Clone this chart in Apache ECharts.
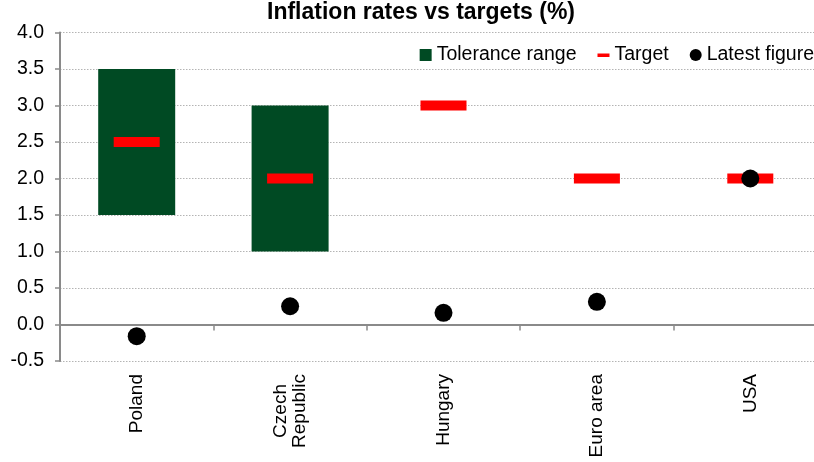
<!DOCTYPE html>
<html>
<head>
<meta charset="utf-8">
<script src="https://cdn.jsdelivr.net/npm/echarts@6/dist/echarts.min.js"></script>
<style>
  html, body { margin: 0; padding: 0; background: #ffffff; }
  #chart { width: 814px; height: 462px; }
</style>
</head>
<body>
<div id="chart"></div>
<script>
// Categories and values (%)
var categories = ['Poland', 'Czech\nRepublic', 'Hungary', 'Euro area', 'USA'];
var toleranceLow = [1.5, 1.0, null, null, null];
var toleranceHigh = [3.5, 3.0, null, null, null];
var targets = [2.5, 2.0, 3.0, 2.0, 2.0];
var latest = [-0.16, 0.25, 0.16, 0.31, 2.0];
var yTicks = { min: -0.5, max: 4.0, step: 0.5 };

var FONT = "'Liberation Sans', Arial, sans-serif";
var GREEN = '#004a23';

// Stacked bars: an invisible base up to the lower bound, then the band itself
var baseData = toleranceLow.map(function (v) { return v == null ? '-' : v; });
var bandData = toleranceHigh.map(function (v, i) {
  return v == null ? '-' : +(v - toleranceLow[i]).toFixed(4);
});

var chart = echarts.init(document.getElementById('chart'), null, { renderer: 'canvas' });

chart.setOption({
  animation: false,
  backgroundColor: '#ffffff',
  title: {
    text: 'Inflation rates vs targets (%)',
    left: 267,
    top: 1,
    padding: 0,
    textStyle: { fontFamily: FONT, fontSize: 23, fontWeight: 'bold', color: '#000' }
  },
  legend: {
    right: 0,
    top: 45,
    padding: 0,
    itemGap: 21,
    itemWidth: 12,
    itemHeight: 12,
    textStyle: { fontFamily: FONT, fontSize: 19.5, color: '#000' },
    data: [
      { name: 'Tolerance range', icon: 'rect' },
      { name: 'Target', icon: 'path://M0,0M12,12M0,4.5h12v3.5h-12z' },
      { name: 'Latest figure', icon: 'circle' }
    ]
  },
  // plot area runs slightly past the right edge of the canvas
  grid: {
    left: 60, top: 32.5, width: 767, bottom: 101,
    containLabel: false, outerBoundsMode: 'none'
  },
  xAxis: [
    {
      type: 'category',
      data: categories,
      position: 'bottom',
      axisLine: { show: false, onZero: false },
      axisTick: { show: false },
      axisLabel: {
        rotate: 90,
        margin: 13,
        interval: 0,
        fontFamily: FONT,
        fontSize: 19,
        color: '#000',
        lineHeight: 19,
        formatter: function (v) {
          return v.split('\n').map(function (s) { return '{c|' + s + '}'; }).join('\n');
        },
        rich: { c: { align: 'center', fontFamily: FONT, fontSize: 19, color: '#000', lineHeight: 19 } }
      }
    },
    {
      // zero line with category separators
      type: 'category',
      data: categories,
      position: 'bottom',
      axisLine: { show: true, onZero: true, lineStyle: { color: '#8a8a8a', width: 2 } },
      axisTick: { show: true, length: 6, inside: false, lineStyle: { color: '#8a8a8a', width: 1.5 } },
      axisLabel: { show: false },
      splitLine: { show: false }
    }
  ],
  yAxis: {
    type: 'value',
    min: yTicks.min,
    max: yTicks.max,
    interval: yTicks.step,
    axisLine: { show: true, onZero: false, lineStyle: { color: '#8a8a8a', width: 2 } },
    axisTick: { show: true, length: 5, lineStyle: { color: '#8a8a8a', width: 1.5 } },
    axisLabel: {
      margin: 16,
      fontFamily: FONT,
      fontSize: 19.5,
      color: '#000',
      formatter: function (v) { return v.toFixed(1); }
    },
    splitLine: { show: true, lineStyle: { color: '#b4b4b4', type: [1.5, 1.5], width: 1 } }
  },
  series: [
    {
      name: 'base',
      type: 'bar',
      stack: 'tol',
      xAxisIndex: 0,
      barWidth: 77,
      itemStyle: { color: 'rgba(0,0,0,0)' },
      emphasis: { disabled: true },
      data: baseData
    },
    {
      name: 'Tolerance range',
      type: 'bar',
      stack: 'tol',
      xAxisIndex: 0,
      barWidth: 77,
      itemStyle: { color: GREEN },
      data: bandData
    },
    {
      name: 'Target',
      type: 'scatter',
      xAxisIndex: 0,
      symbol: 'rect',
      symbolSize: [46, 10],
      itemStyle: { color: '#ff0000', opacity: 1 },
      z: 3,
      data: targets
    },
    {
      name: 'Latest figure',
      type: 'scatter',
      xAxisIndex: 0,
      symbol: 'circle',
      symbolSize: 18,
      itemStyle: { color: '#000000', opacity: 1 },
      z: 4,
      data: latest
    }
  ]
});
</script>
</body>
</html>
